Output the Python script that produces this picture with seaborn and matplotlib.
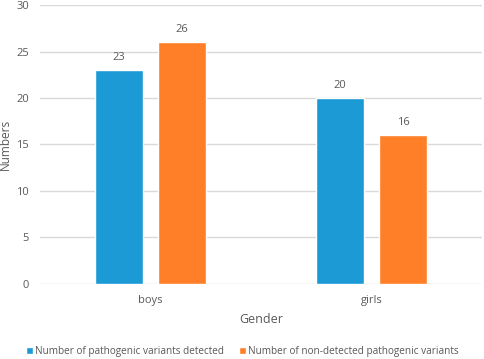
#!/usr/bin/env python3

from matplotlib import pyplot as plt
from matplotlib.patches import Patch
import pandas as pd
import seaborn as sns

genders = ["boys", "girls"]
series = [
    "Number of pathogenic variants detected",
    "Number of non-detected pathogenic variants",
]
detected = [23, 20]
non_detected = [26, 16]
colors = ["#1b9ad6", "#fe7f27"]


def main():
    df = pd.DataFrame({
        "Gender": genders * 2,
        "Series": [series[0]] * 2 + [series[1]] * 2,
        "Numbers": detected + non_detected,
    })

    sns.set_theme(style="white")
    plt.rcParams["font.family"] = ["Open Sans", "DejaVu Sans"]
    text_color = "#595959"

    fig = plt.figure(figsize=(4.84, 3.59), dpi=100)
    ax = fig.add_axes([0.083, 0.209, 0.913, 0.777])

    sns.barplot(
        data=df, x="Gender", y="Numbers", hue="Series", order=genders,
        hue_order=series, palette=colors, width=0.57, gap=0.23,
        saturation=1, ax=ax, legend=False, zorder=3,
    )

    for c in ax.containers:
        ax.bar_label(c, padding=5, fontsize=8, color=text_color)

    ax.set_ylim(0, 30)
    ax.set_xlim(-0.5, 1.5)
    ax.set_yticks(range(0, 31, 5))
    ax.yaxis.grid(True, color="#d9d9d9", linewidth=1, zorder=0)
    for s in ax.spines.values():
        s.set_visible(False)
    ax.tick_params(axis="both", length=0, labelsize=8, colors=text_color,
                   pad=8)

    ax.set_xlabel("Gender", fontsize=9, color=text_color, labelpad=5)
    ax.set_ylabel("Numbers", fontsize=8.5, color=text_color, labelpad=3)

    handles = [Patch(facecolor=c) for c in colors]
    fig.legend(
        handles, series, loc="center", bbox_to_anchor=(0.5, 0.022),
        ncol=2, frameon=False, fontsize=7.2, handlelength=0.7,
        handleheight=0.7, handletextpad=0.2, columnspacing=1.5,
        labelcolor=text_color,
    )

    plt.savefig("out.png", dpi=100)


if __name__ == "__main__":
    main()
